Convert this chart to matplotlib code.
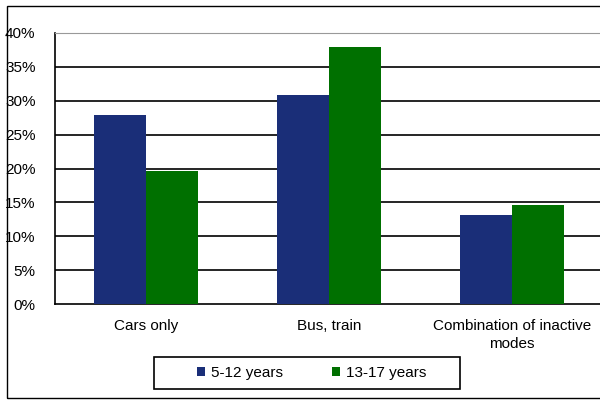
import numpy as np
import matplotlib
matplotlib.use("Agg")
from matplotlib import pyplot as plt
from matplotlib.patches import Rectangle

categories = ["Cars only", "Bus, train", "Combination of inactive\nmodes"]
young = [27.9, 30.8, 13.1]
older = [19.6, 38.0, 14.6]
series_names = ["5-12 years", "13-17 years"]

plt.rcParams['font.family'] = ['Liberation Sans', 'DejaVu Sans']

fig = plt.figure(figsize=(6.0, 4.01), dpi=100)
ax = fig.add_axes([55/600, 1 - 304/401, 548/600, 271/401])

x = np.arange(len(categories))
w = 0.285
ax.bar(x - w/2, young, w, color='#1a2e78', label=series_names[0], zorder=3)
ax.bar(x + w/2, older, w, color='#007000', label=series_names[1], zorder=3)

ax.set_xlim(-0.5, 2.5)
ax.set_ylim(0, 40)
ax.set_yticks(np.arange(0, 41, 5))
ax.set_yticklabels([f"{v}%" for v in range(0, 41, 5)])
for v in range(5, 40, 5):
    ax.axhline(v, color='black', lw=1.2, zorder=1)

ax.set_xticks(x)
ax.set_xticklabels(categories, linespacing=1.35)
ax.tick_params(axis='x', length=0, pad=11, labelsize=11)
ax.tick_params(axis='y', length=0, pad=14, labelsize=11)

ax.spines['top'].set_color('#999999')
ax.spines['right'].set_visible(False)
ax.spines['left'].set_linewidth(1.2)
ax.spines['bottom'].set_linewidth(1.2)

leg = ax.legend(loc='center left', bbox_to_anchor=(197/600, 1 - 373/401),
                bbox_transform=fig.transFigure, ncol=2, frameon=False,
                handlelength=0.52, handleheight=0.52, columnspacing=3.2,
                handletextpad=0.4, borderpad=0, borderaxespad=0, fontsize=11)

# legend box
fig.patches.append(Rectangle((154/600, 1 - 389/401), 306/600, 32/401,
                             transform=fig.transFigure, fill=False,
                             edgecolor='black', lw=1.2))

# outer frame
fig.patches.append(Rectangle((7/600, 1 - 398/401), 1.0, 392/401,
                             transform=fig.transFigure, fill=False,
                             edgecolor='black', lw=1.0))

fig.savefig("out.png", dpi=100)
